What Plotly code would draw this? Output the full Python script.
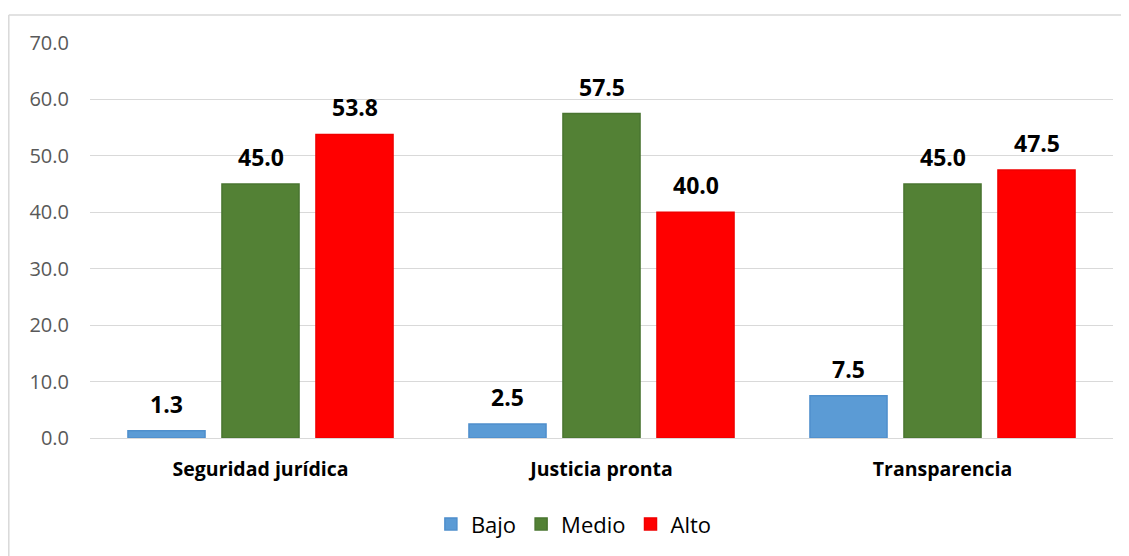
import plotly.graph_objects as go

categories = ["Seguridad jurídica", "Justicia pronta", "Transparencia"]
series_names = ["Bajo", "Medio", "Alto"]
bajo = [1.3, 2.5, 7.5]
medio = [45.0, 57.5, 45.0]
alto = [53.8, 40.0, 47.5]
colors = ["#5b9bd5", "#538135", "#ff0000"]
edge_colors = ["#4f8fcc", "#4a7530", "#f00000"]
ytick_vals = [0, 10, 20, 30, 40, 50, 60, 70]

values = [bajo, medio, alto]
FONT = "Open Sans"

fig = go.Figure()
for name, vals, col, ec in zip(series_names, values, colors, edge_colors):
    fig.add_trace(go.Bar(
        x=categories, y=vals, name=name,
        marker=dict(color=col, line=dict(width=1.5, color=ec)),
    ))

shifts = [-94, 0, 94]
for vals, sh in zip(values, shifts):
    for c, v in zip(categories, vals):
        fig.add_annotation(
            x=c, y=v, xref="x", yref="y", text=f"<b>{v:.1f}</b>",
            showarrow=False, xshift=sh, yshift=9, yanchor="bottom",
            font=dict(family=FONT, size=23, color="#000000"),
        )

# chart border (top and left visible)
L, T, PW, PH = 82, 35, 1023, 395
bx = (0.8 - L) / PW
by = (T + PH - 7) / PH
fig.add_shape(type="line", xref="paper", yref="paper", x0=bx, y0=by, x1=1.05, y1=by,
              line=dict(color="#d9d9d9", width=1.5))
fig.add_shape(type="line", xref="paper", yref="paper", x0=bx, y0=by, x1=bx, y1=-0.5,
              line=dict(color="#d9d9d9", width=1.5))

fig.update_layout(
    width=1129, height=556,
    margin=dict(l=L, r=1129 - L - PW, t=T, b=556 - T - PH),
    paper_bgcolor="white", plot_bgcolor="white",
    barmode="group", bargap=0.173, bargroupgap=0.18,
    font=dict(family=FONT),
    showlegend=True,
    legend=dict(orientation="h", x=0.473, xanchor="center", y=-0.218, yanchor="middle",
                font=dict(family=FONT, size=22, color="#000000"), itemwidth=30),
    xaxis=dict(showline=False, ticks="", ticklabelstandoff=17,
               tickfont=dict(family=FONT, size=19.5, color="#000000", weight="bold")),
    yaxis=dict(range=[0, 70], tickvals=ytick_vals, ticktext=[f"{v:.1f}" for v in ytick_vals],
               showgrid=True, gridcolor="#d9d9d9", gridwidth=1.3,
               zeroline=True, zerolinecolor="#d9d9d9", zerolinewidth=1.3,
               ticklabelstandoff=20,
               tickfont=dict(family=FONT, size=20, color="#595959")),
)

fig.write_html("out.html")
